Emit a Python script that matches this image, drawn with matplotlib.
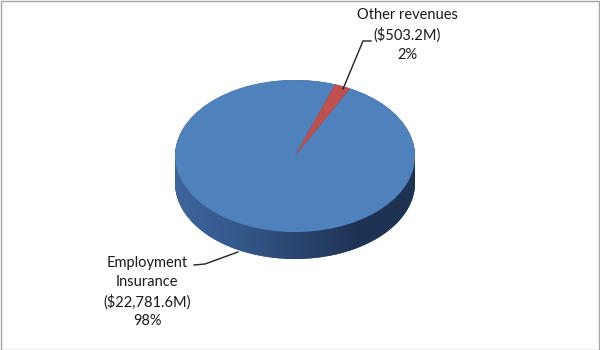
import numpy as np
import matplotlib.pyplot as plt
from matplotlib.path import Path
from matplotlib.patches import PathPatch, Rectangle
from matplotlib.colors import LinearSegmentedColormap

labels = ["Employment Insurance", "Other revenues"]
amounts = [22781.6, 503.2]  # $M
shares = [98, 2]
label_texts = ["Employment\nInsurance\n($22,781.6M)\n98%",
               "Other revenues\n($503.2M)\n2%"]
colors = ["#4F81BD", "#C0504D"]
side_colors = ["#2E5284", "#7E3331"]

W, H = 600, 350
cx, cy = 295, 156       # top face centre (image px)
rx, ry = 120, 76        # semi axes
depth = 27
k = ry / rx


def to_data(x, y):
    return x, (H - y) / k


fig = plt.figure(figsize=(6, 3.5), dpi=100)
ax = fig.add_axes([0, 0, 1, 1])

c_top = to_data(cx, cy)
c_bot = to_data(cx, cy + depth)

# side of the pie: stacked layers of the same pie
n = 30
for i in range(n + 1):
    yc = c_bot[1] + (c_top[1] - c_bot[1]) * i / n
    ax.pie(amounts, colors=side_colors, radius=rx, center=(cx, yc),
           startangle=70.5, counterclock=True,
           wedgeprops=dict(linewidth=0))

# shading of the visible side band
t = np.linspace(np.pi, 2 * np.pi, 200)
bx = cx + rx * np.cos(t)
by_bot = c_bot[1] + rx * np.sin(t)
by_top = c_top[1] + rx * np.sin(t)
verts = np.vstack([np.column_stack([bx, by_bot]),
                   np.column_stack([bx[::-1], by_top[::-1]]),
                   [[bx[0], by_bot[0]]]])
band = PathPatch(Path(verts, closed=True), facecolor="none", edgecolor="none")
ax.add_patch(band)
cmap = LinearSegmentedColormap.from_list(
    "side", ["#3E659C", "#35598C", "#2A4670", "#1F3455", "#1E3251"])
grad = np.linspace(0, 1, 256).reshape(1, -1)
im = ax.imshow(grad, cmap=cmap, aspect="auto",
               extent=[cx - rx, cx + rx, c_bot[1] - rx, c_top[1]],
               zorder=2)
im.set_clip_path(band)

# top face
wedges, _ = ax.pie(amounts, colors=colors, radius=rx, center=c_top,
                   startangle=70.5, counterclock=True,
                   wedgeprops=dict(linewidth=0))
for w in wedges:
    w.set_zorder(3)

ax.set_aspect("auto")
ax.set_xlim(0, W)
ax.set_ylim(0, H / k)
ax.axis("off")

# labels and leader lines
font = dict(family="Lato", fontsize=10.5, color="#1A1A1A", ha="center",
            va="center", linespacing=1.45)
ax.text(*to_data(407, 35), label_texts[1], zorder=5, **font)
ax.text(*to_data(147, 292), label_texts[0], zorder=5, **font)

for pts in ([(371, 41), (363, 41), (343, 89)],
            [(194, 265), (205, 264), (238, 252)]):
    xs, ys = zip(*[to_data(*p) for p in pts])
    ax.plot(xs, ys, color="#222222", linewidth=1, zorder=4)

fig.patches.append(Rectangle((0.5 / W, 0.5 / H), 1 - 1.5 / W, 1 - 1.5 / H,
                             transform=fig.transFigure, fill=False,
                             edgecolor="#A6A6A6", linewidth=1))

fig.savefig("out.png", dpi=100)
